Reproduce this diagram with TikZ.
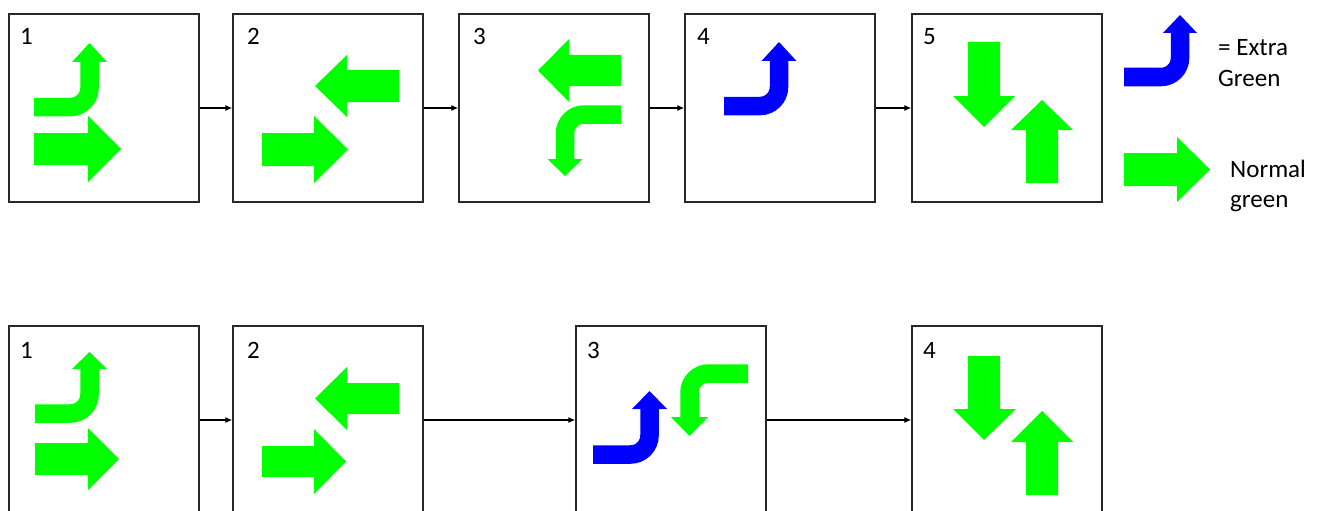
\documentclass[tikz,border=0pt]{standalone}
\usepackage{fontspec}
\setmainfont{Carlito}
\usetikzlibrary{arrows.meta}
\definecolor{arrowgreen}{RGB}{0,255,0}
\definecolor{arrowblue}{RGB}{0,0,255}
\definecolor{boxline}{RGB}{40,40,40}
\tikzset{
  box/.style={draw=boxline, line width=1.4pt, minimum width=190pt, minimum height=188pt, inner sep=0pt},
  num/.style={anchor=base west, inner sep=0pt, font=\fontsize{25}{30}\selectfont},
  legtext/.style={anchor=base west, inner sep=0pt, font=\fontsize{25}{30}\selectfont},
  conn/.style={draw=black, line width=1.2pt, -{Latex[length=7pt,width=6pt]}},
  turngreen/.style={draw=arrowgreen, line width=18.5pt, rounded corners=19pt},
  turnblue/.style={draw=arrowblue, line width=18.5pt, rounded corners=19pt},
  gfill/.style={fill=arrowgreen},
  bfill/.style={fill=arrowblue}
}
\begin{document}
\begin{tikzpicture}[x=1pt,y=-1pt]
\useasboundingbox (0,0) rectangle (1320,511);
\fill[white] (0,0) rectangle (1320,511);

% ---------- top row boxes ----------
\node[box] (t1) at (104,108) {};
\node[box] (t2) at (328,108) {};
\node[box] (t3) at (554,108) {};
\node[box] (t4) at (780,108) {};
\node[box] (t5) at (1007,108) {};
\node[num] (t1n) at (20,45) {1};
\node[num] (t2n) at (247,45) {2};
\node[num] (t3n) at (473,45) {3};
\node[num] (t4n) at (697,45) {4};
\node[num] (t5n) at (923,45) {5};
\draw[conn] (t1.east) -- (t2.west);
\draw[conn] (t2.east) -- (t3.west);
\draw[conn] (t3.east) -- (t4.west);
\draw[conn] (t4.east) -- (t5.west);

% box t1
\draw[turngreen] (34,107) -- (89.5,107) -- (89.5,61);
\fill[gfill] (72,62) -- (89.5,43) -- (107,62) -- cycle;
\fill[gfill] (34,133) -- (88,133) -- (88,116) -- (121,149) -- (88,182) -- (88,165) -- (34,165) -- cycle;
% box t2
\fill[gfill] (399,70) -- (347,70) -- (347,55) -- (315,86) -- (347,117) -- (347,102) -- (399,102) -- cycle;
\fill[gfill] (262,133) -- (314,133) -- (314,116) -- (348,149.5) -- (314,183) -- (314,166) -- (262,166) -- cycle;
% box t3
\fill[gfill] (621,55) -- (569,55) -- (569,39) -- (538,70.5) -- (569,102) -- (569,86) -- (621,86) -- cycle;
\draw[turngreen] (621,114.5) -- (565,114.5) -- (565,160);
\fill[gfill] (547.5,159) -- (565,176) -- (582.5,159) -- cycle;
% box t4
\draw[turnblue] (724,106) -- (779,106) -- (779,61);
\fill[bfill] (761.5,61) -- (779,42) -- (796.5,61) -- cycle;
% box t5
\fill[gfill] (968,42) -- (1000,42) -- (1000,96) -- (1015,96) -- (984,127) -- (953,96) -- (968,96) -- cycle;
\fill[gfill] (1026,183) -- (1058,183) -- (1058,130) -- (1073,130) -- (1042,100) -- (1011,130) -- (1026,130) -- cycle;

% ---------- legend ----------
\draw[turnblue] (1124,77) -- (1180,77) -- (1180,33);
\fill[bfill] (1163,33) -- (1180,15) -- (1197,33) -- cycle;
\node[legtext] (legA) at (1218,56) {= Extra};
\node[legtext] (legB) at (1218,86) {Green};
\fill[gfill] (1124,153) -- (1177,153) -- (1177,137) -- (1210,169.5) -- (1177,202) -- (1177,186) -- (1124,186) -- cycle;
\node[legtext] (legC) at (1230,177) {Normal};
\node[legtext] (legD) at (1230,207) {green};

% ---------- bottom row boxes ----------
\node[box] (b1) at (104,420) {};
\node[box] (b2) at (328,420) {};
\node[box] (b3) at (671,420) {};
\node[box] (b4) at (1007,420) {};
\node[num] (b1n) at (20,358) {1};
\node[num] (b2n) at (247,358) {2};
\node[num] (b3n) at (587,358) {3};
\node[num] (b4n) at (923,358) {4};
\draw[conn] (b1.east) -- (b2.west);
\draw[conn] (b2.east) -- (b3.west);
\draw[conn] (b3.east) -- (b4.west);

% box b1
\draw[turngreen] (35,413.5) -- (89.5,413.5) -- (89.5,368);
\fill[gfill] (72,369) -- (89.5,352) -- (107,369) -- cycle;
\fill[gfill] (35,443) -- (88,443) -- (88,428) -- (119,459) -- (88,490) -- (88,475) -- (35,475) -- cycle;
% box b2
\fill[gfill] (399,383) -- (347,383) -- (347,367) -- (315,398.5) -- (347,430) -- (347,414) -- (399,414) -- cycle;
\fill[gfill] (262,446) -- (314,446) -- (314,429) -- (346,461.5) -- (314,494) -- (314,477) -- (262,477) -- cycle;
% box b3
\draw[turnblue] (593,454.5) -- (649.5,454.5) -- (649.5,408);
\fill[bfill] (632,409) -- (649.5,391) -- (667,409) -- cycle;
\draw[turngreen] (748,373.5) -- (689.5,373.5) -- (689.5,418);
\fill[gfill] (671,417) -- (689.5,436) -- (708,417) -- cycle;
% box b4
\fill[gfill] (968,356) -- (1000,356) -- (1000,409) -- (1016,409) -- (984,440) -- (953,409) -- (968,409) -- cycle;
\fill[gfill] (1026,495) -- (1058,495) -- (1058,442) -- (1073,442) -- (1042,411) -- (1011,442) -- (1026,442) -- cycle;
\end{tikzpicture}
\end{document}
